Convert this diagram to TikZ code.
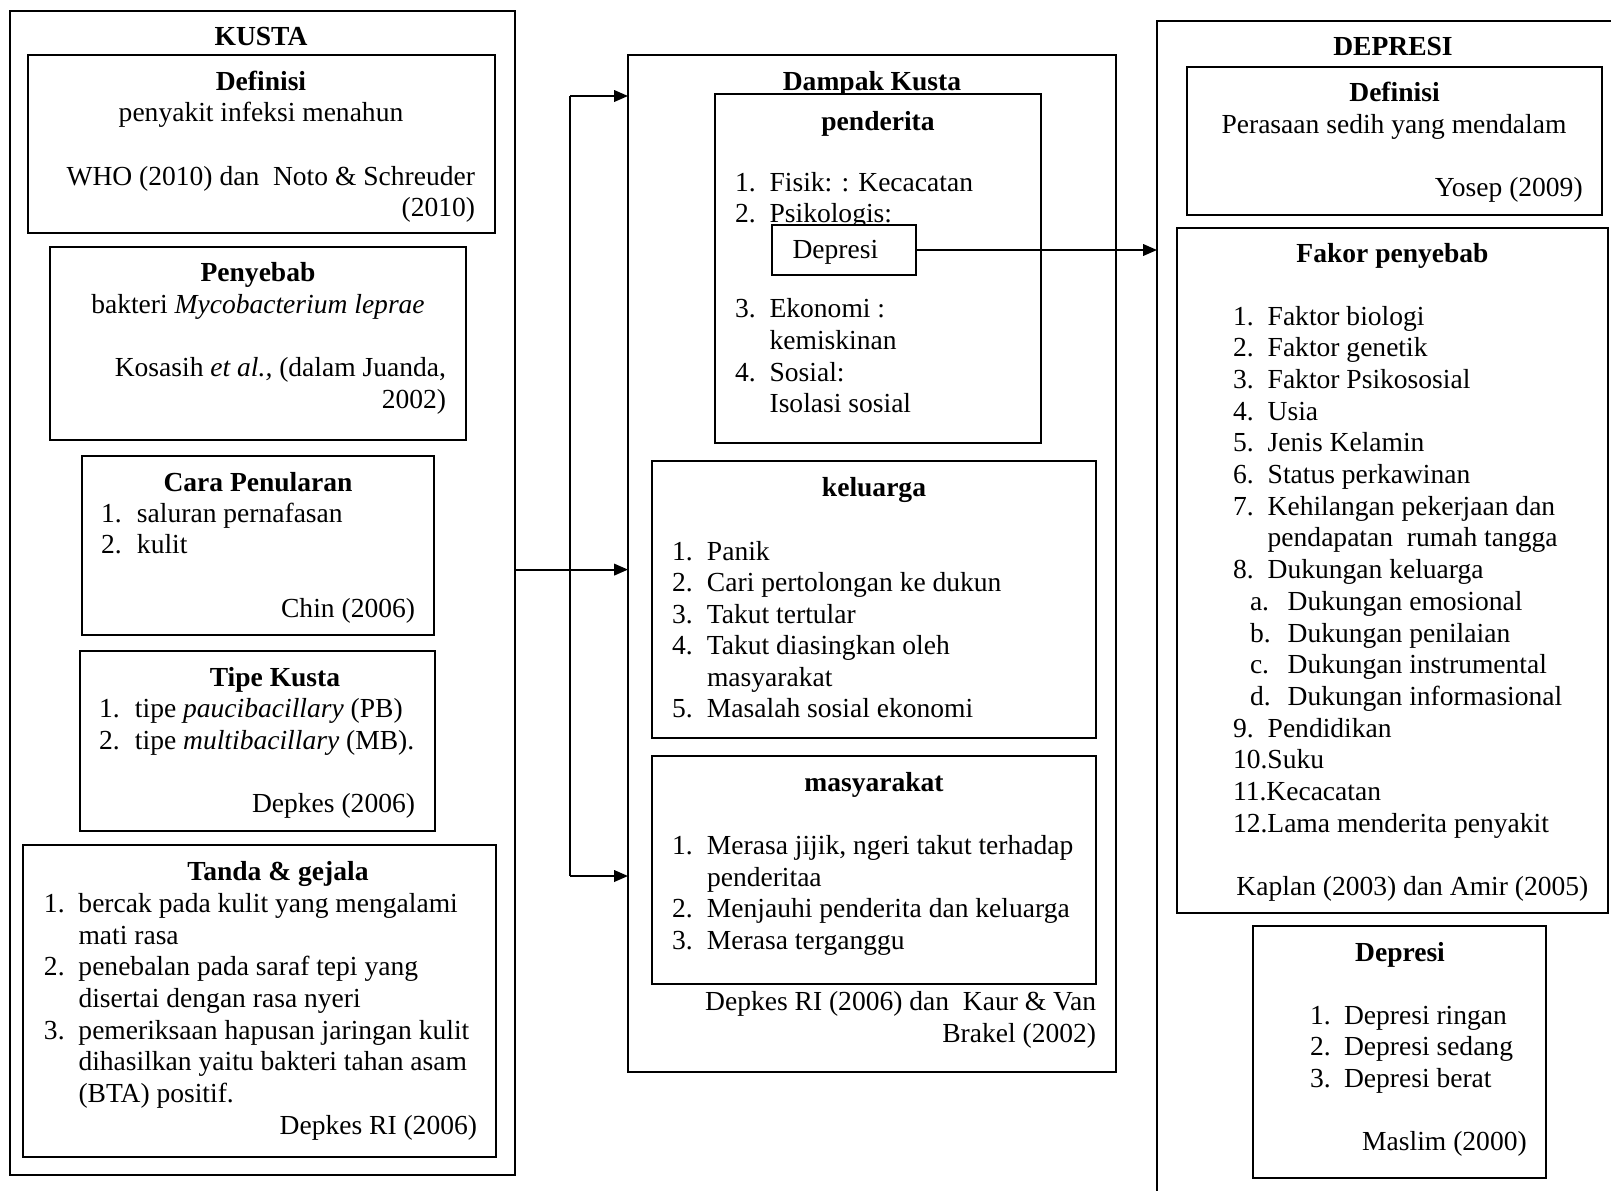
\documentclass[tikz,border=0pt]{standalone}
\usepackage{fontspec}
\setmainfont{Liberation Serif}
\usetikzlibrary{arrows.meta}
\newdimen\pxu \pxu=0.4357pt
% box: name, x1, y1, x2, y2 (pixel units)
\newcommand\bx[6][]{\node[box,anchor=north west,minimum width={(#5-#3)*\pxu},minimum height={(#6-#4)*\pxu},#1] (#2) at (#3,#4) {};}
% text line: [anchor] name, x, y(baseline), text
\newcommand\tl[5][base west]{\node[txt,anchor=#1] (#2) at (#3,#4) {#5};}
\newcommand\nm[2]{\makebox[#1\pxu][l]{#2}}
\begin{document}
\begin{tikzpicture}[x={0.4357pt},y={-0.4357pt},
  box/.style={draw,line width=0.8pt,inner sep=0pt,outer sep=0pt,rectangle},
  txt/.style={inner sep=0pt,outer sep=0pt,font=\fontsize{12pt}{13.8pt}\selectfont},
  arr/.style={line width=0.8pt,-{Triangle[length=6pt,width=5pt]}},
  conn/.style={line width=0.8pt}]
\path[use as bounding box,fill=white] (0,0) rectangle (1611,1191);

% ================= KUSTA =================
\bx{kusta}{10}{11}{515}{1175}
\tl[base]{kT}{261}{45.7}{\bfseries KUSTA}
\bx{kdef}{28}{55}{495}{233}
\tl[base]{kdefT}{261}{90.7}{\bfseries Definisi}
\tl[base]{kdef1}{261}{121.7}{penyakit infeksi menahun}
\tl[base east]{kdef2}{475}{185}{WHO (2010) dan\ \ Noto \& Schreuder}
\tl[base east]{kdef3}{475}{216.5}{(2010)}

\bx{kpen}{50}{247}{466}{440}
\tl[base]{kpenT}{258}{281.7}{\bfseries Penyebab}
\tl[base]{kpen1}{258}{313}{bakteri \textit{Mycobacterium leprae}}
\tl[base east]{kpen2}{446}{376.5}{Kosasih \textit{et al.,} (dalam Juanda,}
\tl[base east]{kpen3}{446}{408}{2002)}

\bx{kcara}{82}{456}{434}{635}
\tl[base]{kcaraT}{258}{491.7}{\bfseries Cara Penularan}
\tl{kcara1}{101}{522}{\nm{36}{1.}saluran pernafasan}
\tl{kcara2}{101}{553.5}{\nm{36}{2.}kulit}
\tl[base east]{kcara3}{415}{617}{Chin (2006)}

\bx{ktipe}{80}{651}{435}{831}
\tl[base]{ktipeT}{275}{686.7}{\bfseries Tipe Kusta}
\tl{ktipe1}{99}{717.7}{\nm{36}{1.}tipe \textit{paucibacillary} (PB)}
\tl{ktipe2}{99}{749}{\nm{36}{2.}tipe \textit{multibacillary} (MB).}
\tl[base east]{ktipe3}{415}{812}{Depkes (2006)}

\bx{ktanda}{23}{845}{496}{1157}
\tl[base]{ktandaT}{278}{880.7}{\bfseries Tanda \& gejala}
\tl{kt1}{44}{912.4}{\nm{34.5}{1.}bercak pada kulit yang mengalami}
\tl{kt2}{78.5}{944.1}{mati rasa}
\tl{kt3}{44}{975.8}{\nm{34.5}{2.}penebalan pada saraf tepi yang}
\tl{kt4}{78.5}{1007.5}{disertai dengan rasa nyeri}
\tl{kt5}{44}{1039.2}{\nm{34.5}{3.}pemeriksaan hapusan jaringan kulit}
\tl{kt6}{78.5}{1070.9}{dihasilkan yaitu bakteri tahan asam}
\tl{kt7}{78.5}{1102.6}{(BTA) positif.}
\tl[base east]{kt8}{477}{1134.3}{Depkes RI (2006)}

% ================= DAMPAK =================
\bx{dampak}{628}{55}{1116}{1072}
\tl[base]{dT}{872}{90}{\bfseries Dampak Kusta}
\bx[fill=white]{dpend}{715}{94}{1041}{443}
\tl[base]{dpendT}{878}{130}{\bfseries penderita}
\tl{dp1}{735}{191.7}{\nm{34.6}{1.}Fisik: : Kecacatan}
\tl{dp2}{735}{222.9}{\nm{34.6}{2.}Psikologis:}
\bx[fill=white]{ddep}{772}{225}{916}{275}
\tl{ddepT}{792.6}{258.3}{Depresi}
\tl{dp3}{735}{317.7}{\nm{34.6}{3.}Ekonomi :}
\tl{dp4}{769.6}{349.4}{kemiskinan}
\tl{dp5}{735}{381.1}{\nm{34.6}{4.}Sosial:}
\tl{dp6}{769.6}{412.8}{Isolasi sosial}

\bx{dkel}{652}{461}{1096}{738}
\tl[base]{dkelT}{874}{496.8}{\bfseries keluarga}
\tl{dk1}{672}{560}{\nm{35}{1.}Panik}
\tl{dk2}{672}{591.5}{\nm{35}{2.}Cari pertolongan ke dukun}
\tl{dk3}{672}{623}{\nm{35}{3.}Takut tertular}
\tl{dk4}{672}{654.6}{\nm{35}{4.}Takut diasingkan oleh}
\tl{dk5}{707}{686.2}{masyarakat}
\tl{dk6}{672}{717.8}{\nm{35}{5.}Masalah sosial ekonomi}

\bx{dmas}{652}{756}{1096}{984}
\tl[base]{dmasT}{874}{791.4}{\bfseries masyarakat}
\tl{dm1}{672}{854.6}{\nm{35}{1.}Merasa jijik, ngeri takut terhadap}
\tl{dm2}{707}{886.2}{penderitaa}
\tl{dm3}{672}{917.8}{\nm{35}{2.}Menjauhi penderita dan keluarga}
\tl{dm4}{672}{949.4}{\nm{35}{3.}Merasa terganggu}
\tl[base east]{dcit1}{1096}{1010.3}{Depkes RI (2006) dan\ \ Kaur \& Van}
\tl[base east]{dcit2}{1096}{1042}{Brakel (2002)}

% ================= DEPRESI =================
\draw[conn] (1611,21) -- (1157,21) -- (1157,1191);
\coordinate (depL) at (1157,250);
\tl[base]{rT}{1393}{55}{\bfseries DEPRESI}
\bx{rdef}{1187}{67}{1602}{215}
\tl[base]{rdefT}{1394.5}{101.7}{\bfseries Definisi}
\tl[base]{rdef1}{1394}{133.3}{Perasaan sedih yang mendalam}
\tl[base east]{rdef2}{1582.7}{196.7}{Yosep (2009)}

\bx{rfak}{1177}{228}{1608}{913}
\tl[base]{rfakT}{1392.5}{262.7}{\bfseries Fakor penyebab}
\tl{rf1}{1233}{325}{\nm{34.7}{1.}Faktor biologi}
\tl{rf2}{1233}{356.7}{\nm{34.7}{2.}Faktor genetik}
\tl{rf3}{1233}{388.4}{\nm{34.7}{3.}Faktor Psikososial}
\tl{rf4}{1233}{420.1}{\nm{34.7}{4.}Usia}
\tl{rf5}{1233}{451.8}{\nm{34.7}{5.}Jenis Kelamin}
\tl{rf6}{1233}{483.5}{\nm{34.7}{6.}Status perkawinan}
\tl{rf7}{1233}{515.2}{\nm{34.7}{7.}Kehilangan pekerjaan dan}
\tl{rf7b}{1267.7}{546.9}{pendapatan\ \ rumah tangga}
\tl{rf8}{1233}{578.6}{\nm{34.7}{8.}Dukungan keluarga}
\tl{rfa}{1250}{610.3}{\nm{37.7}{a.}Dukungan emosional}
\tl{rfb}{1250}{642}{\nm{37.7}{b.}Dukungan penilaian}
\tl{rfc}{1250}{673.7}{\nm{37.7}{c.}Dukungan instrumental}
\tl{rfd}{1250}{705.4}{\nm{37.7}{d.}Dukungan informasional}
\tl{rf9}{1233}{737.1}{\nm{34.7}{9.}Pendidikan}
\tl{rf10}{1233}{768.8}{10.Suku}
\tl{rf11}{1233}{800.5}{11.Kecacatan}
\tl{rf12}{1233}{832.2}{12.Lama menderita penyakit}
\tl[base east]{rfcit}{1588.3}{895}{Kaplan (2003) dan Amir (2005)}

\bx{rdep}{1253}{926}{1546}{1178}
\tl[base]{rdepT}{1400}{961.7}{\bfseries Depresi}
\tl{rd1}{1310}{1024}{\nm{34}{1.}Depresi ringan}
\tl{rd2}{1310}{1055.7}{\nm{34}{2.}Depresi sedang}
\tl{rd3}{1310}{1087.4}{\nm{34}{3.}Depresi berat}
\tl[base east]{rdcit}{1526.7}{1150.7}{Maslim (2000)}

% ================= CONNECTORS =================
\coordinate (jt) at (570,96);
\coordinate (jm) at (570,569.6);
\coordinate (jb) at (570,876);
\draw[conn] (jt) -- (jb);
\draw[arr] (kusta.east |- jm) -- (dampak.west |- jm);
\draw[arr] (jt) -- (dampak.west |- jt);
\draw[arr] (jb) -- (dampak.west |- jb);
\draw[arr] (ddep.east) -- (depL);
\end{tikzpicture}
\end{document}
